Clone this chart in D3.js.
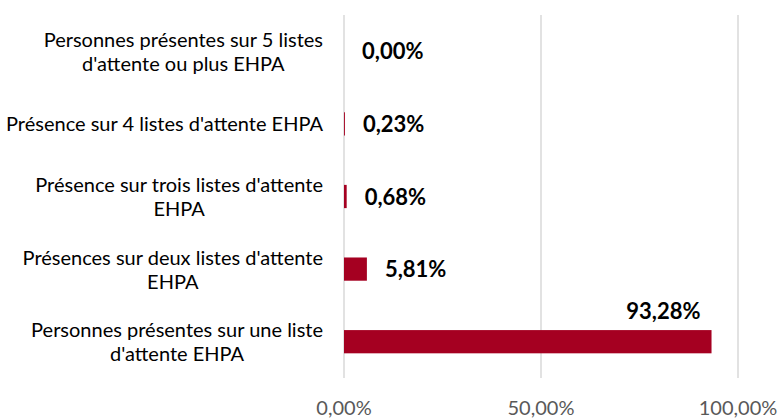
<!DOCTYPE html>
<html>
<head>
<meta charset="utf-8">
<script src="https://cdn.jsdelivr.net/npm/d3@7"></script>
<style>
  body { margin: 0; background: #fff; }
  svg { font-family: Lato, "Open Sans", sans-serif; }
</style>
</head>
<body>
<div id="chart"></div>
<script>
// categories, top to bottom (explicit line breaks as in the original)
var categories = [
  ["Personnes présentes sur 5 listes", "d'attente ou plus EHPA"],
  ["Présence sur 4 listes d'attente EHPA"],
  ["Présence sur trois listes d'attente", "EHPA"],
  ["Présences sur deux listes d'attente", "EHPA"],
  ["Personnes présentes sur une liste", "d'attente EHPA"]
];
var values = [0.00, 0.23, 0.68, 5.81, 93.28];
var tickValues = [0, 50, 100];

var width = 779, height = 419;
var plotLeft = 344, plotRight = 738, plotTop = 15, plotBottom = 378;
var barColor = "#a50021";

var fmt = function(v, dec){ return v.toFixed(dec).replace(".", ",") + "%"; };

var svg = d3.select("#chart").append("svg")
  .attr("width", width).attr("height", height);

var x = d3.scaleLinear().domain([0, 100]).range([plotLeft, plotRight]);
var y = d3.scaleBand().domain(d3.range(categories.length))
  .range([plotTop, plotBottom]).paddingInner(0.68).paddingOuter(0.34);

// vertical grid
svg.append("g")
  .selectAll("line").data(tickValues).enter().append("line")
  .attr("x1", function(d){ return x(d); }).attr("x2", function(d){ return x(d); })
  .attr("y1", plotTop).attr("y2", plotBottom)
  .attr("stroke", "#d9d9d9").attr("stroke-width", 1.5);

// tick labels
svg.append("g")
  .selectAll("text").data(tickValues).enter().append("text")
  .attr("x", function(d){ return x(d); })
  .attr("y", 415)
  .attr("text-anchor", "middle")
  .attr("fill", "#595959")
  .attr("font-size", 20)
  .text(function(d){ return fmt(d, 2); });

// bars
svg.append("g")
  .selectAll("rect").data(values).enter().append("rect")
  .attr("x", x(0))
  .attr("y", function(d, i){ return y(i); })
  .attr("width", function(d){ return x(d) - x(0); })
  .attr("height", y.bandwidth())
  .attr("fill", barColor);

// value labels
svg.append("g")
  .selectAll("text").data(values).enter().append("text")
  .attr("font-size", 22).attr("font-weight", "bold").attr("fill", "#000")
  .attr("x", function(d){ return d > 50 ? x(d) - 11 : x(d) + 18; })
  .attr("y", function(d, i){ return d > 50 ? y(i) - 11 : y(i) + y.bandwidth() / 2 + 8; })
  .attr("text-anchor", function(d){ return d > 50 ? "end" : "start"; })
  .text(function(d){ return fmt(d, 2); });

// category labels: block right-aligned, lines centred inside it
var labelRight = 323, lineH = 24;
var cat = svg.append("g").selectAll("g").data(categories).enter().append("g");
cat.each(function(lines, i){
  var g = d3.select(this);
  var cy = y(i) + y.bandwidth() / 2;
  var t = g.selectAll("text").data(lines).enter().append("text")
    .attr("font-size", 20).attr("fill", "#000")
    .attr("text-anchor", "middle")
    .attr("y", function(d, j){ return cy + (j - (lines.length - 1) / 2) * lineH + 7.5; })
    .text(function(d){ return d; });
  var w = d3.max(t.nodes(), function(n){ return n.getComputedTextLength(); });
  t.attr("x", labelRight - w / 2);
});
</script>
</body>
</html>
